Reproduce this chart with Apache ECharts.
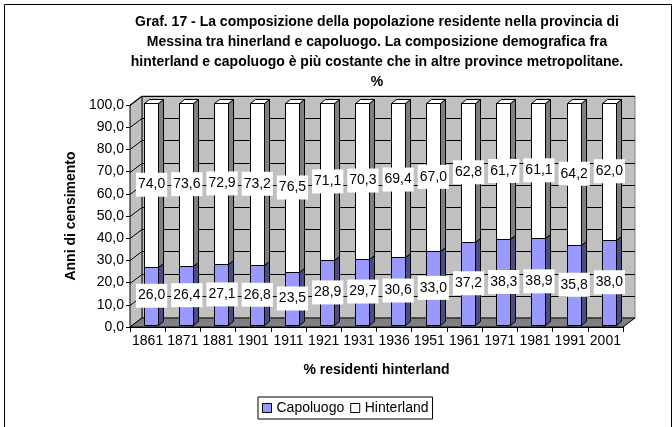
<!DOCTYPE html>
<html lang="it">
<head>
<meta charset="utf-8" />
<title>Graf. 17</title>
<script src="https://cdn.jsdelivr.net/npm/echarts@6/dist/echarts.min.js"></script>
<style>
  html, body { margin: 0; padding: 0; background: #fff; }
  #chart { width: 672px; height: 427px; }
</style>
</head>
<body>
<div id="chart"></div>
<script>
// dati
var anni = ['1861', '1871', '1881', '1901', '1911', '1921', '1931', '1936', '1951', '1961', '1971', '1981', '1991', '2001'];
var capoluogo = [26.0, 26.4, 27.1, 26.8, 23.5, 28.9, 29.7, 30.6, 33.0, 37.2, 38.3, 38.9, 35.8, 38.0];
var hinterland = [74.0, 73.6, 72.9, 73.2, 76.5, 71.1, 70.3, 69.4, 67.0, 62.8, 61.7, 61.1, 64.2, 62.0];
var yTicks = [0, 10, 20, 30, 40, 50, 60, 70, 80, 90, 100];

var FONT = 'Arial, "Liberation Sans", sans-serif';
// effetto 3D (profondita' del grafico e delle colonne)
var DX = 12, DY = -9;
var OX = 3.5, OY = -2.5;
var SDX = 5, SDY = -4;

function fmt(v) { return v.toFixed(1).replace('.', ','); }

var chart = echarts.init(document.getElementById('chart'));

// pareti e pavimento
function renderFrame(params, api) {
  var cs = params.coordSys;
  var gx = cs.x, gy = cs.y, gw = cs.width, gh = cs.height;
  var kids = [];
  kids.push({ type: 'rect', shape: { x: gx + DX, y: gy + DY, width: gw, height: gh },
    style: { fill: '#C0C0C0', stroke: '#808080', lineWidth: 1 } });
  kids.push({ type: 'polygon', shape: { points: [[gx, gy], [gx + DX, gy + DY], [gx + DX, gy + gh + DY], [gx, gy + gh]] },
    style: { fill: '#C0C0C0', stroke: '#000', lineWidth: 1 } });
  yTicks.forEach(function (v) {
    var y = Math.round(api.coord([0, v])[1]) + 0.5;
    kids.push({ type: 'polyline', shape: { points: [[gx, y], [gx + DX, y + DY], [gx + gw + DX, y + DY]] },
      style: { stroke: '#000', lineWidth: 1, fill: null } });
  });
  kids.push({ type: 'polygon', shape: { points: [[gx, gy + gh], [gx + DX, gy + gh + DY], [gx + gw + DX, gy + gh + DY], [gx + gw, gy + gh]] },
    style: { fill: '#808080', stroke: '#000', lineWidth: 1 } });
  return { type: 'group', children: kids };
}

function makeBar(front, side, top) {
  return function (params, api) {
    var i = api.value(0);
    var p0 = api.coord([i, api.value(1)]);
    var p1 = api.coord([i, api.value(2)]);
    var w = api.size([1, 0])[0] * 0.4;
    var xl = Math.round(p0[0] + OX - w / 2) + 0.5;
    var xr = xl + Math.round(w);
    var yb = Math.round(p0[1] + OY) + 0.5;
    var yt = Math.round(p1[1] + OY) + 0.5;
    var st = { stroke: '#000', lineWidth: 1 };
    return { type: 'group', children: [
      { type: 'polygon', shape: { points: [[xr, yt], [xr + SDX, yt + SDY], [xr + SDX, yb + SDY], [xr, yb]] },
        style: Object.assign({ fill: side }, st) },
      { type: 'polygon', shape: { points: [[xl, yt], [xl + SDX, yt + SDY], [xr + SDX, yt + SDY], [xr, yt]] },
        style: Object.assign({ fill: top }, st) },
      { type: 'rect', shape: { x: xl, y: yt, width: xr - xl, height: yb - yt },
        style: Object.assign({ fill: front }, st) }
    ] };
  };
}

function renderLabels(params, api) {
  var i = api.value(0);
  var c = api.value(1), h = api.value(2);
  var a = api.coord([i, c / 2]);
  var b = api.coord([i, c + h / 2]);
  var ts = function (p, v) {
    return { type: 'text', style: { text: fmt(v), x: p[0] + OX + 0.5, y: p[1] + OY,
      align: 'center', verticalAlign: 'middle', fill: '#000', font: '14px ' + FONT,
      backgroundColor: '#fff', padding: [5, 2, 5, 2] } };
  };
  return { type: 'group', children: [ts(a, c), ts(b, h)] };
}

var capoData = anni.map(function (a, i) { return [i, 0, capoluogo[i]]; });
var hintData = anni.map(function (a, i) { return [i, capoluogo[i], capoluogo[i] + hinterland[i]]; });
var labelData = anni.map(function (a, i) { return [i, capoluogo[i], hinterland[i]]; });

var option = {
  animation: false,
  backgroundColor: '#fff',
  title: {
    text: 'Graf. 17 - La composizione della popolazione residente nella provincia di\nMessina tra hinerland e capoluogo. La composizione demografica fra\nhinterland e capoluogo è più costante che in altre province metropolitane.\n%',
    left: 372, top: 7, textAlign: 'center',
    textStyle: { fontFamily: FONT, fontSize: 14, fontWeight: 'bold', color: '#000', lineHeight: 20 }
  },
  graphic: [{
    type: 'rect', left: 2, top: 2, z: -10,
    shape: { width: 667, height: 440 },
    style: { fill: null, stroke: '#000', lineWidth: 1 }
  }],
  legend: {
    left: 258, top: 397,
    data: [
      { name: 'Capoluogo', itemStyle: { color: '#9999FF', borderColor: '#000', borderWidth: 1 } },
      { name: 'Hinterland', itemStyle: { color: '#FFFFFF', borderColor: '#000', borderWidth: 1 } }
    ],
    icon: 'rect', itemWidth: 9, itemHeight: 9, itemGap: 6,
    borderColor: '#000', borderWidth: 1, padding: [4, 4],
    textStyle: { fontFamily: FONT, fontSize: 14, color: '#000' }
  },
  grid: { left: 130, right: 49, top: 105, bottom: 100, containLabel: false },
  xAxis: {
    type: 'category', data: anni,
    name: '% residenti hinterland', nameLocation: 'middle', nameGap: 36,
    nameTextStyle: { fontFamily: FONT, fontSize: 14, fontWeight: 'bold', color: '#000' },
    axisLine: { lineStyle: { color: '#000', width: 1 } },
    axisTick: { show: true, length: 5, lineStyle: { color: '#000' } },
    axisLabel: { fontFamily: FONT, fontSize: 14, color: '#000', margin: 7, interval: 0 },
    splitLine: { show: false }
  },
  yAxis: {
    type: 'value', min: 0, max: 100, interval: 10,
    name: 'Anni di censimento', nameLocation: 'middle', nameGap: 50, nameRotate: 90,
    nameTextStyle: { fontFamily: FONT, fontSize: 14, fontWeight: 'bold', color: '#000' },
    axisLine: { show: true, lineStyle: { color: '#000', width: 1 } },
    axisTick: { show: true, length: 4, lineStyle: { color: '#000' } },
    axisLabel: { fontFamily: FONT, fontSize: 14, color: '#000', margin: 6, formatter: function (v) { return fmt(v); } },
    splitLine: { show: false }
  },
  series: [
    { type: 'custom', name: 'frame', data: [[0, 0]], renderItem: renderFrame, silent: true, z: 1 },
    { type: 'custom', name: 'Capoluogo', data: capoData, renderItem: makeBar('#9999FF', '#4C4C80', '#9999FF'),
      itemStyle: { color: '#9999FF' }, encode: { x: 0, y: [1, 2] }, z: 2 },
    { type: 'custom', name: 'Hinterland', data: hintData, renderItem: makeBar('#FFFFFF', '#808080', '#FFFFFF'),
      itemStyle: { color: '#FFFFFF' }, encode: { x: 0, y: [1, 2] }, z: 3 },
    { type: 'custom', name: 'etichette', data: labelData, renderItem: renderLabels, encode: { x: 0, y: 1 }, z: 4, silent: true }
  ]
};

chart.setOption(option);
</script>
</body>
</html>
